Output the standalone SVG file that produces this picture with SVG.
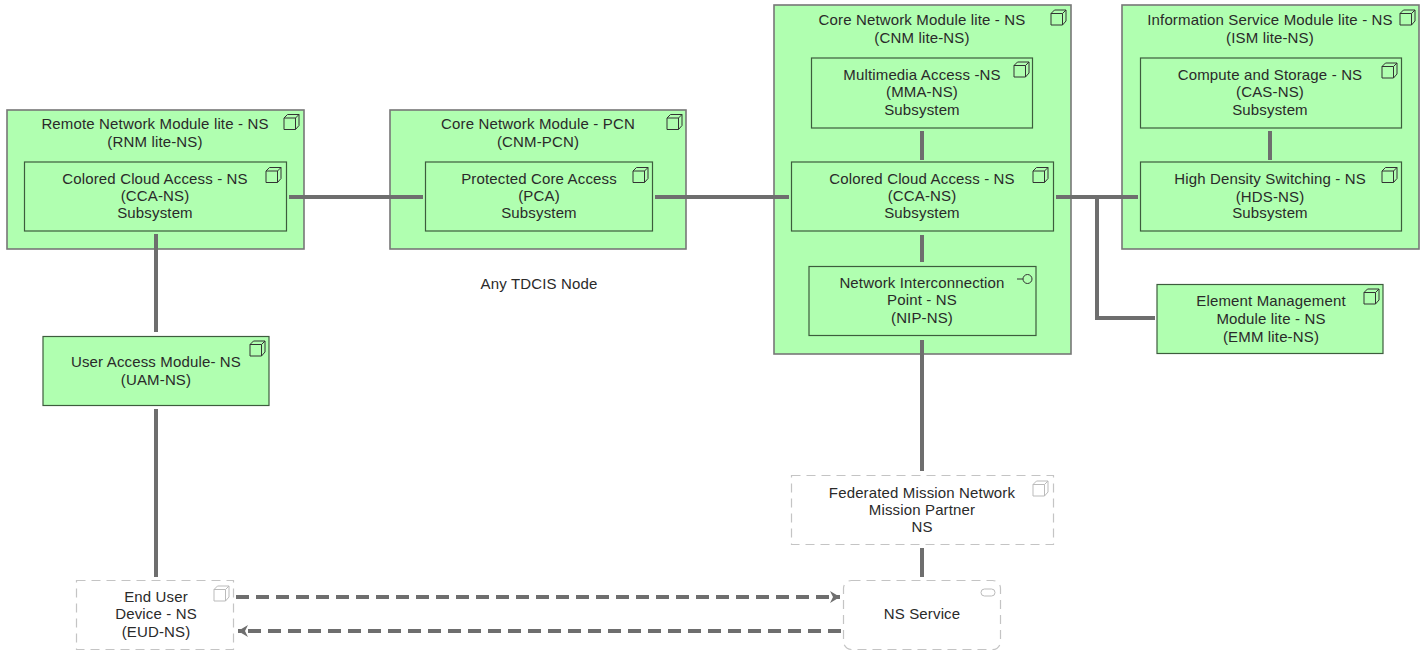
<svg xmlns="http://www.w3.org/2000/svg" width="1426" height="652" viewBox="0 0 1426 652">
<style>
.n{fill:#b0ffb0;stroke:#3d5c3d;stroke-width:1.2}
.o{stroke:#777;stroke-width:1.6}
.d{fill:#fff;stroke:#c4c4c4;stroke-width:1.2;stroke-dasharray:9 6}
text{font-family:"Liberation Sans",Arial,sans-serif;font-size:15px;letter-spacing:.15px;fill:#2a2a2a;text-anchor:middle}
.c{fill:none;stroke:#6e6e6e;stroke-width:4}
.k{stroke-dasharray:13 7}
.i{fill:none;stroke:#333;stroke-width:1}
.g{fill:none;stroke:#bbb;stroke-width:1}
</style>
<defs>
<g id="cube"><path d="M0 3.500H11.500V15H0ZM0 3.500L3.500 0H15V11L11.500 15M11.500 3.500L15 0"/></g>
<marker id="a" markerUnits="userSpaceOnUse" markerWidth="12" markerHeight="12" refX="10" refY="6" orient="auto"><path d="M0 0L10 6L0 12L3 6Z" fill="#6e6e6e"/></marker>
</defs>
<g id="rnm"><rect class="n o" x="7" y="110" width="297" height="139"/><use href="#cube" class="i" x="284" y="114.500"/><text x="155" y="129">Remote Network Module lite - NS</text><text x="155" y="147">(RNM lite-NS)</text></g>
<g id="rnm-cca"><rect class="n" x="24.500" y="162" width="262" height="69"/><use href="#cube" class="i" x="266" y="167.500"/><text x="155" y="184">Colored Cloud Access - NS</text><text x="155" y="201">(CCA-NS)</text><text x="155" y="218">Subsystem</text></g>
<g id="pcn"><rect class="n o" x="390" y="110" width="296" height="139"/><use href="#cube" class="i" x="667" y="114.500"/><text x="538" y="129">Core Network Module - PCN</text><text x="538" y="147">(CNM-PCN)</text></g>
<g id="pca"><rect class="n" x="425.500" y="162" width="227" height="69"/><use href="#cube" class="i" x="633" y="167.500"/><text x="539" y="184">Protected Core Access</text><text x="539" y="201">(PCA)</text><text x="539" y="218">Subsystem</text></g>
<text x="539" y="289">Any TDCIS Node</text>
<g id="cnm"><rect class="n o" x="774" y="5" width="297" height="349"/><use href="#cube" class="i" x="1051" y="10"/><text x="922" y="25">Core Network Module lite - NS</text><text x="922" y="43">(CNM lite-NS)</text></g>
<g id="mma"><rect class="n" x="811.500" y="58" width="221" height="70"/><use href="#cube" class="i" x="1014" y="62"/><text x="922" y="80">Multimedia Access -NS</text><text x="922" y="97">(MMA-NS)</text><text x="922" y="115">Subsystem</text></g>
<g id="cnm-cca"><rect class="n" x="791.500" y="162" width="262" height="69"/><use href="#cube" class="i" x="1033" y="167.500"/><text x="922" y="184">Colored Cloud Access - NS</text><text x="922" y="201">(CCA-NS)</text><text x="922" y="218">Subsystem</text></g>
<g id="nip"><rect class="n" x="809" y="266.500" width="227" height="69"/><path class="i" d="M1017 279H1023"/><circle class="i" cx="1027.500" cy="279" r="4.500"/><text x="922" y="288">Network Interconnection</text><text x="922" y="305">Point - NS</text><text x="922" y="323">(NIP-NS)</text></g>
<g id="ism"><rect class="n o" x="1122" y="5" width="297" height="244"/><use href="#cube" class="i" x="1400" y="10"/><text x="1270" y="25">Information Service Module lite - NS</text><text x="1270" y="43">(ISM lite-NS)</text></g>
<g id="cas"><rect class="n" x="1140.500" y="58" width="261" height="70"/><use href="#cube" class="i" x="1382" y="63"/><text x="1270" y="80">Compute and Storage - NS</text><text x="1270" y="97">(CAS-NS)</text><text x="1270" y="115">Subsystem</text></g>
<g id="hds"><rect class="n" x="1140.500" y="162" width="261" height="69"/><use href="#cube" class="i" x="1382" y="167.500"/><text x="1270" y="184">High Density Switching - NS</text><text x="1270" y="202">(HDS-NS)</text><text x="1270" y="218">Subsystem</text></g>
<g id="emm"><rect class="n" x="1157" y="284.500" width="226" height="69"/><use href="#cube" class="i" x="1364" y="289"/><text x="1271" y="306">Element Management</text><text x="1271" y="324">Module lite - NS</text><text x="1271" y="342">(EMM lite-NS)</text></g>
<g id="uam"><rect class="n" x="43" y="336.500" width="226" height="69"/><use href="#cube" class="i" x="250" y="341"/><text x="156" y="367">User Access Module- NS</text><text x="156" y="385">(UAM-NS)</text></g>
<g id="fmn"><rect class="d" x="791.500" y="475.500" width="262" height="69"/><use href="#cube" class="g" x="1033" y="481"/><text x="922" y="498">Federated Mission Network</text><text x="922" y="515">Mission Partner</text><text x="922" y="532">NS</text></g>
<g id="eud"><rect class="d" x="76.500" y="580.500" width="157" height="69"/><use href="#cube" class="g" x="214" y="586"/><text x="156" y="602">End User</text><text x="156" y="619">Device - NS</text><text x="156" y="637">(EUD-NS)</text></g>
<g id="svc"><rect class="d" x="843.500" y="580.500" width="157" height="69" rx="8"/><rect class="g" x="981" y="589" width="14" height="7" rx="3.500"/><text x="922" y="619">NS Service</text></g>
<g id="connectors">
<path class="c" d="M289 197H423"/>
<path class="c" d="M655 197H789"/>
<path class="c" d="M1056 197H1138"/>
<path class="c" d="M1097 197V318H1155"/>
<path class="c" d="M156 234V332"/>
<path class="c" d="M156 409V577"/>
<path class="c" d="M922 131V160"/>
<path class="c" d="M922 235V262"/>
<path class="c" d="M922 340V471"/>
<path class="c" d="M922 548V577"/>
<path class="c" d="M1270 131V160"/>
<path class="c k" d="M236 597H840" marker-end="url(#a)"/>
<path class="c k" d="M841 631H238" marker-end="url(#a)"/>
</g>
</svg>
